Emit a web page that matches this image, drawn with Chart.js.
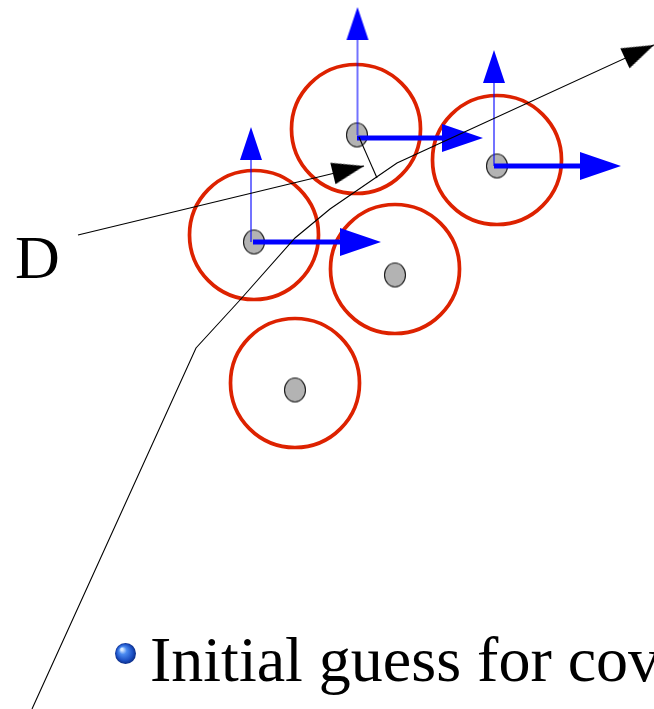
<!DOCTYPE html>
<html>
<head>
<meta charset="utf-8">
<script src="https://cdn.jsdelivr.net/npm/chart.js@4.4.1/dist/chart.umd.min.js"></script>
<style>
  html, body { margin: 0; padding: 0; background: #ffffff; }
  #wrap { position: relative; width: 654px; height: 709px; }
  canvas { display: block; }
</style>
</head>
<body>
<div id="wrap"><canvas id="c" width="654" height="709"></canvas></div>
<script>
// ---------- data (diagram coordinates) ----------
const covarianceCenters = [[254,235],[356,129],[497,160],[395,269],[295,383]];
const meanPoints        = [[254,242],[357,135],[497,166],[395,275],[295,390]];
const verticalArrows    = [[[251,242],[251,127]], [[357.5,135],[357.5,7]], [[494,166],[494,50]]];
const horizontalArrows  = [[[253,242],[381,242]], [[357,138],[483,138]], [[494,166],[621,166]]];
const trajectoryPath    = [[32,709],[196,348],[240,300],[295,238],[330,209],[397,163],[654,45]];
const directionPath     = [[78,235],[364,166]];
const linkSegment       = [[359,137],[377,178]];
const bulletPoint       = [[125.5,653.5]];
const labelTexts        = ['D', 'Initial guess for cov'];

// ---------- style helpers ----------
const RED = '#dd2200';
const BLUE = '#0000ff';

function toXY(arr) { return arr.map(p => ({x: p[0], y: p[1]})); }

function makeHead(len, halfW, color) {
  const c = document.createElement('canvas');
  c.width = Math.ceil(2 * len + 2);
  c.height = Math.ceil(2 * halfW + 2);
  const g = c.getContext('2d');
  const cx = c.width / 2, cy = c.height / 2;
  g.fillStyle = color;
  g.beginPath();
  g.moveTo(cx, cy);
  g.lineTo(cx - len, cy - halfW);
  g.lineTo(cx - len, cy + halfW);
  g.closePath();
  g.fill();
  return c;
}

function makeEllipse(rx, ry) {
  const c = document.createElement('canvas');
  c.width = Math.ceil(2 * rx + 3);
  c.height = Math.ceil(2 * ry + 3);
  const g = c.getContext('2d');
  g.fillStyle = '#b3b3b3';
  g.strokeStyle = '#1a1a1a';
  g.lineWidth = 1.1;
  g.beginPath();
  g.ellipse(c.width / 2, c.height / 2, rx, ry, 0, 0, Math.PI * 2);
  g.fill();
  g.stroke();
  return c;
}

function makeSphere(r) {
  const c = document.createElement('canvas');
  c.width = Math.ceil(2 * r + 2);
  c.height = Math.ceil(2 * r + 2);
  const g = c.getContext('2d');
  const cx = c.width / 2, cy = c.height / 2;
  const grad = g.createRadialGradient(cx - r * 0.35, cy - r * 0.4, r * 0.1, cx, cy, r);
  grad.addColorStop(0, '#d8eaff');
  grad.addColorStop(0.3, '#4a8af0');
  grad.addColorStop(0.75, '#1c50c4');
  grad.addColorStop(1, '#0b2c86');
  g.fillStyle = grad;
  g.beginPath();
  g.arc(cx, cy, r, 0, Math.PI * 2);
  g.fill();
  return c;
}

function angleDeg(a, b) { return Math.atan2(b[1] - a[1], b[0] - a[0]) * 180 / Math.PI; }
function shorten(a, b, d) {
  const L = Math.hypot(b[0] - a[0], b[1] - a[1]);
  return [b[0] - (b[0] - a[0]) * d / L, b[1] - (b[1] - a[1]) * d / L];
}

const vHead = makeHead(33, 11, BLUE);
const hHead = makeHead(41, 14, BLUE);
const kHead = makeHead(32, 11, '#000000');
const dotImg = makeEllipse(10.5, 12);
const sphereImg = makeSphere(10.5);

const datasets = [];

// red covariance circles
datasets.push({
  label: 'covariance', data: toXY(covarianceCenters), order: 10,
  pointRadius: 64.5, pointBorderWidth: 3.7, pointBorderColor: RED,
  pointBackgroundColor: 'rgba(0,0,0,0)', showLine: false, clip: false
});
// gray mean dots
datasets.push({
  label: 'means', data: toXY(meanPoints), order: 9,
  pointStyle: dotImg, pointRadius: 6, showLine: false, clip: false
});
// thin vertical blue arrows
verticalArrows.forEach((a, i) => {
  datasets.push({
    label: 'v' + i, data: toXY([a[0], shorten(a[0], a[1], 30)]), order: 8,
    showLine: true, borderColor: 'rgba(0,0,255,0.55)', borderWidth: 2,
    pointRadius: 0, clip: false
  });
});
datasets.push({
  label: 'vheads', data: toXY(verticalArrows.map(a => a[1])), order: 7,
  pointStyle: vHead, pointRadius: 6,
  rotation: verticalArrows.map(a => angleDeg(a[0], a[1])), showLine: false, clip: false
});
// thick horizontal blue arrows
horizontalArrows.forEach((a, i) => {
  datasets.push({
    label: 'h' + i, data: toXY([a[0], shorten(a[0], a[1], 38)]), order: 6,
    showLine: true, borderColor: BLUE, borderWidth: 5,
    pointRadius: 0, clip: false
  });
});
datasets.push({
  label: 'hheads', data: toXY(horizontalArrows.map(a => a[1])), order: 5,
  pointStyle: hHead, pointRadius: 6,
  rotation: horizontalArrows.map(a => angleDeg(a[0], a[1])), showLine: false, clip: false
});
// black lines
[trajectoryPath, directionPath, linkSegment].forEach((p, i) => {
  datasets.push({
    label: 'k' + i, data: toXY(p), order: 3,
    showLine: true, borderColor: '#000000', borderWidth: 1.1,
    pointRadius: 0, tension: 0, clip: false
  });
});
const tp = trajectoryPath;
datasets.push({
  label: 'kheads',
  data: toXY([tp[tp.length - 1], directionPath[1]]), order: 2,
  pointStyle: kHead, pointRadius: 6,
  rotation: [angleDeg(tp[tp.length - 2], tp[tp.length - 1]), angleDeg(directionPath[0], directionPath[1])],
  showLine: false, clip: false
});
// bullet
datasets.push({
  label: 'bullet', data: toXY(bulletPoint), order: 1,
  pointStyle: sphereImg, pointRadius: 6, showLine: false, clip: false
});

const textLayout = [
  { x: 15, y: 278, size: 62 },
  { x: 150, y: 681, size: 64 }
];

const textPlugin = {
  id: 'texts',
  afterDatasetsDraw(chart) {
    const ctx = chart.ctx;
    const xs = chart.scales.x, ys = chart.scales.y;
    ctx.save();
    ctx.fillStyle = '#000000';
    ctx.textBaseline = 'alphabetic';
    ctx.textAlign = 'left';
    labelTexts.forEach((t, i) => {
      const L = textLayout[i];
      ctx.font = L.size + 'px "Liberation Serif", "Times New Roman", serif';
      ctx.fillText(t, xs.getPixelForValue(L.x), ys.getPixelForValue(L.y));
    });
    ctx.restore();
  }
};

new Chart(document.getElementById('c'), {
  type: 'scatter',
  data: { datasets },
  options: {
    responsive: false,
    animation: false,
    events: [],
    layout: { padding: 0, autoPadding: false },
    plugins: { legend: { display: false }, tooltip: { enabled: false } },
    scales: {
      x: { type: 'linear', min: 0, max: 654, display: false },
      y: { type: 'linear', min: 0, max: 709, reverse: true, display: false }
    }
  },
  plugins: [textPlugin]
});
</script>
</body>
</html>
